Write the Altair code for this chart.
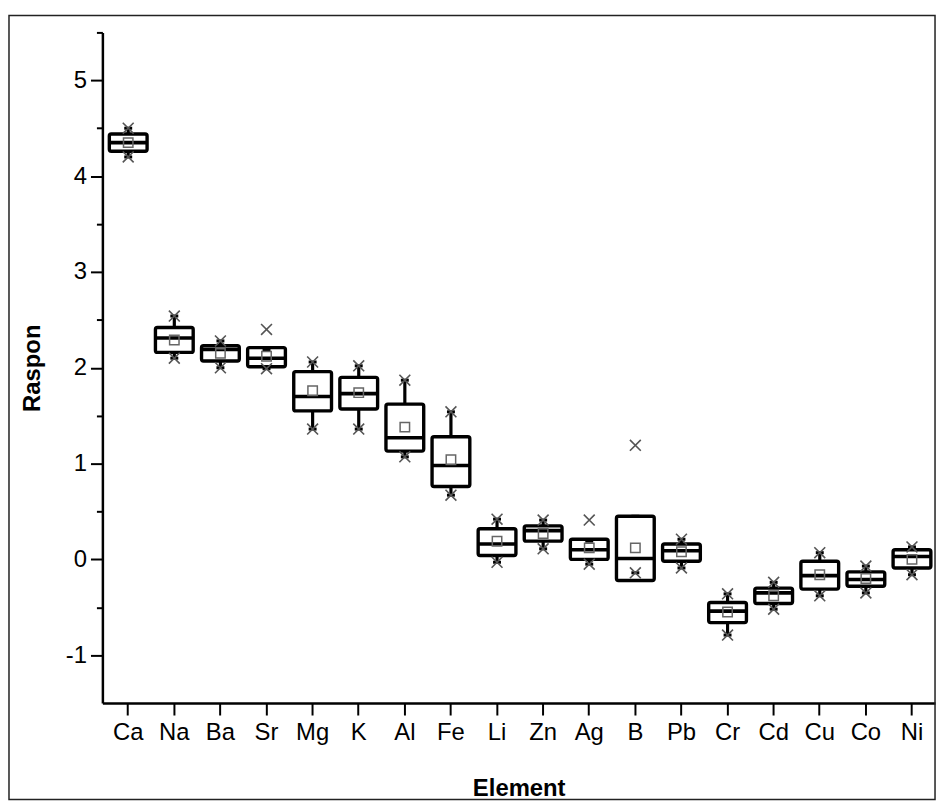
import altair as alt
import pandas as pd

elements = ["Ca", "Na", "Ba", "Sr", "Mg", "K", "Al", "Fe", "Li", "Zn",
            "Ag", "B", "Pb", "Cr", "Cd", "Cu", "Co", "Ni"]
q3 = [4.44, 2.42, 2.23, 2.21, 1.96, 1.90, 1.62, 1.28, 0.32, 0.35,
      0.21, 0.45, 0.16, -0.45, -0.30, -0.02, -0.13, 0.10]
q1 = [4.26, 2.16, 2.07, 2.01, 1.55, 1.57, 1.13, 0.76, 0.04, 0.19,
      0.00, -0.22, -0.02, -0.66, -0.46, -0.31, -0.28, -0.09]
median = [4.35, 2.31, 2.19, 2.10, 1.70, 1.73, 1.27, 0.98, 0.16, 0.30,
          0.10, 0.01, 0.09, -0.54, -0.35, -0.17, -0.21, 0.03]
mean = [4.35, 2.29, 2.15, 2.12, 1.76, 1.74, 1.38, 1.04, 0.19, 0.27,
        0.12, 0.12, 0.08, -0.55, -0.38, -0.16, -0.20, 0.00]
whisker_hi = [4.50, 2.54, 2.28, 2.19, 2.06, 2.02, 1.87, 1.54, 0.42, 0.41,
              0.19, 0.45, 0.21, -0.36, -0.24, 0.07, -0.07, 0.13]
whisker_lo = [4.20, 2.10, 2.00, 1.99, 1.36, 1.36, 1.07, 0.67, -0.03, 0.11,
              -0.05, -0.14, -0.09, -0.79, -0.52, -0.38, -0.35, -0.16]
x_max = [4.50, 2.54, 2.28, 2.40, 2.06, 2.02, 1.87, 1.54, 0.42, 0.41,
         0.41, 1.19, 0.21, -0.36, -0.24, 0.07, -0.07, 0.13]
x_min = [4.20, 2.10, 2.00, 1.99, 1.36, 1.36, 1.07, 0.67, -0.03, 0.11,
         -0.05, -0.14, -0.09, -0.79, -0.52, -0.38, -0.35, -0.16]

major_ticks = [-1, 0, 1, 2, 3, 4, 5]
minor_ticks = [-0.5, 0.5, 1.5, 2.5, 3.5, 4.5, 5.5]

df = pd.DataFrame({
    "element": elements, "q1": q1, "q3": q3, "median": median, "mean": mean,
    "whi": whisker_hi, "wlo": whisker_lo, "xmax": x_max, "xmin": x_min,
})

FONT = "Liberation Sans"
W, H = 838, 675

y_scale = alt.Scale(domain=[-1.5, 5.5], nice=False, zero=False)

x_enc = alt.X(
    "element:N", sort=elements,
    scale=alt.Scale(paddingInner=0, paddingOuter=0.03, align=1),
    axis=alt.Axis(title="Element", labelAngle=0, labelFontSize=24, labelPadding=6,
                  tickSize=12, tickWidth=2, domainWidth=2.5,
                  titleFontSize=24, titleFontWeight="bold", titlePadding=32,
                  labelColor="black", titleColor="black",
                  domainColor="black", tickColor="black"),
)

major_axis = alt.Axis(values=major_ticks, tickSize=12, tickWidth=2, domainWidth=2.5,
                      labelFontSize=24, labelPadding=4, grid=False,
                      labelExpr="datum.value < 0 ? '-' + abs(datum.value) : '' + datum.value",
                      title="Raspon", titleFontSize=24, titleFontWeight="bold",
                      titlePadding=21, labelColor="black", titleColor="black",
                      domainColor="black", tickColor="black")
minor_axis = alt.Axis(values=minor_ticks, tickSize=6, tickWidth=2, labels=False,
                      domain=False, grid=False, title="", tickColor="black",
                      orient="left")

base = alt.Chart(df).encode(x=x_enc)

whisk = base.mark_rule(color="black", strokeWidth=3.2).encode(
    y=alt.Y("wlo:Q", scale=y_scale, axis=major_axis), y2="whi:Q")
box = base.mark_bar(size=38, fill="white", stroke="black", strokeWidth=3.4,
                    cornerRadius=2).encode(
    y=alt.Y("q1:Q", scale=y_scale, axis=None), y2="q3:Q")
med = base.mark_tick(size=38, thickness=3.6, color="black", opacity=1).encode(
    y=alt.Y("median:Q", scale=y_scale, axis=None))
cap_hi = base.mark_tick(size=8, thickness=3, color="black", opacity=1).encode(
    y=alt.Y("whi:Q", scale=y_scale, axis=None))
cap_lo = base.mark_tick(size=8, thickness=3, color="black", opacity=1).encode(
    y=alt.Y("wlo:Q", scale=y_scale, axis=None))
xshape = "M-1,-1L1,1M-1,1L1,-1"
xm_hi = base.mark_point(shape=xshape, filled=False, stroke="#555555", strokeWidth=1.6,
                        size=120, opacity=1).encode(
    y=alt.Y("xmax:Q", scale=y_scale, axis=None))
xm_lo = base.mark_point(shape=xshape, filled=False, stroke="#555555", strokeWidth=1.6,
                        size=120, opacity=1).encode(
    y=alt.Y("xmin:Q", scale=y_scale, axis=None))
mean_pt = base.mark_point(shape="square", filled=False, stroke="#666666",
                          strokeWidth=1.5, size=90, opacity=1).encode(
    y=alt.Y("mean:Q", scale=y_scale, axis=minor_axis))

frame = alt.Chart(pd.DataFrame({"k": [0]})).mark_rect(
    filled=False, stroke="#222222", strokeWidth=1.5).encode(
    x=alt.value(-94), x2=alt.value(838), y=alt.value(-17), y2=alt.value(772))

chart = alt.layer(whisk, box, med, cap_hi, cap_lo, xm_hi, xm_lo, mean_pt, frame).resolve_axis(
    y="independent"
).properties(
    width=W, height=H,
    autosize=alt.AutoSizeParams(type="none"),
    padding={"left": 95, "top": 22, "right": 4, "bottom": 100},
    background="white",
).configure_view(stroke=None).configure_axis(
    labelFont=FONT, titleFont=FONT
)

chart.save("out.html", embed_options={"renderer": "svg", "actions": False})
